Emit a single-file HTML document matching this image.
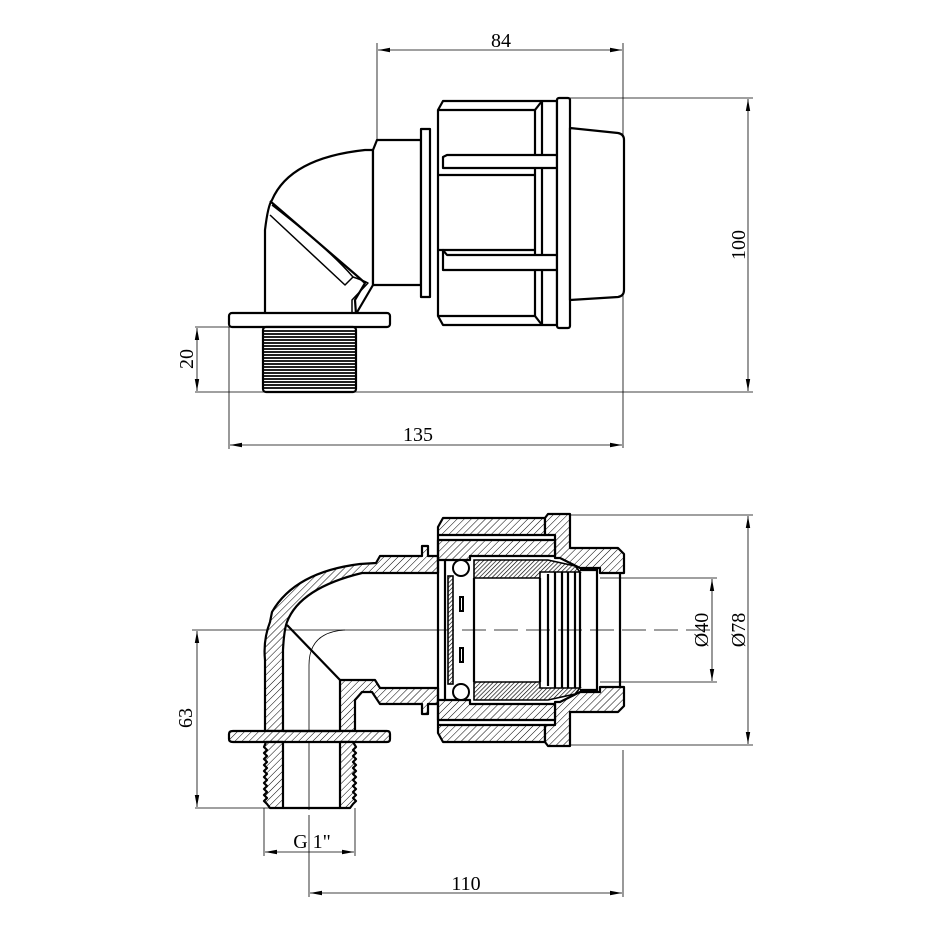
<!DOCTYPE html>
<html><head><meta charset="utf-8"><style>
html,body{margin:0;padding:0;background:#fff}
svg{display:block}
text{font-family:"Liberation Serif",serif;font-size:20px;fill:#000}
</style></head><body>
<svg width="930" height="930" viewBox="0 0 930 930" xmlns="http://www.w3.org/2000/svg">
<defs>
<pattern id="h" width="5" height="5" patternUnits="userSpaceOnUse" patternTransform="rotate(45)">
<rect width="5" height="5" fill="#fff"/><line x1="0" y1="0" x2="0" y2="5" stroke="#000" stroke-width="1"/></pattern>
<pattern id="hd" width="3" height="3" patternUnits="userSpaceOnUse" patternTransform="rotate(45)">
<rect width="3" height="3" fill="#fff"/><line x1="0" y1="0" x2="0" y2="3" stroke="#000" stroke-width="1.3"/></pattern>
<marker id="a" markerWidth="12" markerHeight="6" refX="12" refY="3" orient="auto-start-reverse" markerUnits="userSpaceOnUse"><path d="M0,0.8 L12,3 L0,5.2Z" fill="#000"/></marker>
</defs>

<!-- ============ TOP VIEW ============ -->
<g stroke="#000" stroke-width="0.8" fill="none">
<line x1="377" y1="43" x2="377" y2="140"/>
<line x1="623" y1="43" x2="623" y2="448"/>
<line x1="378" y1="50" x2="622" y2="50" marker-start="url(#a)" marker-end="url(#a)"/>
<line x1="570" y1="98" x2="753" y2="98"/>
<line x1="195" y1="392" x2="753" y2="392"/>
<line x1="748" y1="99" x2="748" y2="391" marker-start="url(#a)" marker-end="url(#a)"/>
<line x1="195" y1="327" x2="265" y2="327"/>
<line x1="197" y1="328" x2="197" y2="391" marker-start="url(#a)" marker-end="url(#a)"/>
<line x1="229" y1="327" x2="229" y2="449"/>
<line x1="230" y1="445" x2="622" y2="445" marker-start="url(#a)" marker-end="url(#a)"/>
</g>
<text x="501" y="47" text-anchor="middle">84</text>
<text x="418" y="441" text-anchor="middle">135</text>
<text transform="translate(745,245) rotate(-90)" text-anchor="middle">100</text>
<text transform="translate(193,359) rotate(-90)" text-anchor="middle">20</text>

<g stroke="#000" stroke-width="2.2" fill="#fff" stroke-linejoin="round">
<path d="M265,314 L265,230 Q268,205 272,200 Q290,158 365,150 L373,150 L373,285 L356,314 Z"/>
<path d="M270,201 L356,275 L365,283 L355,300 L356,314" fill="none"/>
<path d="M272,205 Q330,250 353,277 L345,285 L270,215" fill="none" stroke-width="1.5"/>
<path d="M353,277 Q362,280 368,283 L352,300 L352,313" fill="none" stroke-width="1.5"/>
<path d="M373,150 L377,140 L421,140 L421,285 L373,285 Z"/>
<rect x="421" y="129" width="9" height="168"/>
<path d="M438,110 L443,101 L557,101 L557,325 L443,325 L438,316 Z"/>
<line x1="438" y1="110" x2="535" y2="110"/>
<line x1="438" y1="316" x2="535" y2="316"/>
<line x1="535" y1="110" x2="535" y2="316"/>
<line x1="535" y1="110" x2="542" y2="101"/>
<line x1="535" y1="316" x2="542" y2="325"/>
<line x1="542" y1="101" x2="542" y2="325"/>
<path d="M443,157 L447,155 L557,155 L557,168 L443,168 Z"/>
<path d="M443,250 L447,255 L557,255 L557,270 L443,270 Z"/>
<line x1="438" y1="175" x2="535" y2="175"/>
<line x1="438" y1="250" x2="535" y2="250"/>
<rect x="557" y="98" width="13" height="230" rx="2"/>
<path d="M570,128 L618,133 Q624,134 624,140 L624,290 Q624,296 618,297 L570,300 Z"/>
<rect x="229" y="313" width="161" height="14" rx="3"/>
<rect x="263" y="327" width="93" height="65" rx="3"/>
</g>
<g stroke="#000" stroke-width="1.8">
<line x1="264" y1="331" x2="355" y2="331"/><line x1="264" y1="334" x2="355" y2="334"/>
<line x1="264" y1="337" x2="355" y2="337"/><line x1="264" y1="340" x2="355" y2="340"/>
<line x1="264" y1="343" x2="355" y2="343"/><line x1="264" y1="346" x2="355" y2="346"/>
<line x1="264" y1="349" x2="355" y2="349"/><line x1="264" y1="352" x2="355" y2="352"/>
<line x1="264" y1="355" x2="355" y2="355"/><line x1="264" y1="358" x2="355" y2="358"/>
<line x1="264" y1="361" x2="355" y2="361"/><line x1="264" y1="364" x2="355" y2="364"/>
<line x1="264" y1="367" x2="355" y2="367"/><line x1="264" y1="370" x2="355" y2="370"/>
<line x1="264" y1="373" x2="355" y2="373"/><line x1="264" y1="376" x2="355" y2="376"/>
<line x1="264" y1="379" x2="355" y2="379"/><line x1="264" y1="382" x2="355" y2="382"/>
<line x1="264" y1="385" x2="355" y2="385"/><line x1="264" y1="388" x2="355" y2="388"/>
</g>

<!-- ============ BOTTOM VIEW ============ -->
<g stroke="#000" stroke-width="0.8" fill="none">
<line x1="570" y1="515" x2="753" y2="515"/>
<line x1="570" y1="745" x2="753" y2="745"/>
<line x1="748" y1="516" x2="748" y2="744" marker-start="url(#a)" marker-end="url(#a)"/>
<line x1="600" y1="578" x2="717" y2="578"/>
<line x1="600" y1="682" x2="717" y2="682"/>
<line x1="712" y1="579" x2="712" y2="681" marker-start="url(#a)" marker-end="url(#a)"/>
<line x1="192" y1="630" x2="430" y2="630"/>
<line x1="430" y1="630" x2="712" y2="630" stroke-dasharray="24,8"/>
<line x1="195" y1="808" x2="290" y2="808"/>
<line x1="197" y1="631" x2="197" y2="807" marker-start="url(#a)" marker-end="url(#a)"/>
<line x1="264" y1="808" x2="264" y2="856"/>
<line x1="355" y1="808" x2="355" y2="856"/>
<line x1="265" y1="852" x2="354" y2="852" marker-start="url(#a)" marker-end="url(#a)"/>
<line x1="309" y1="815" x2="309" y2="897"/>
<line x1="623" y1="750" x2="623" y2="897"/>
<line x1="310" y1="893" x2="622" y2="893" marker-start="url(#a)" marker-end="url(#a)"/>
<line x1="309" y1="665" x2="309" y2="810"/>
<path d="M345,630 Q309,632 309,665"/>
</g>
<text x="312" y="848" text-anchor="middle">G 1"</text>
<text x="466" y="890" text-anchor="middle">110</text>
<text transform="translate(192,718) rotate(-90)" text-anchor="middle">63</text>
<text transform="translate(708,630) rotate(-90)" text-anchor="middle">Ø40</text>
<text transform="translate(745,630) rotate(-90)" text-anchor="middle">Ø78</text>

<g stroke="#000" stroke-width="2.2" stroke-linejoin="round" fill="url(#h)">
<path d="M438,556 L428,556 L428,546 L422,546 L422,556 L380,556 L376,563 L360,564 Q295,572 272,612 L270,622 Q263,640 265,660 L265,731 L283,731 L283,650 Q284,630 287,622 Q300,588 362,573 L438,573 Z"/>
<path d="M340,680 L375,680 L380,688 L438,688 L438,704 L428,704 L428,714 L422,714 L422,704 L380,704 L372,692 L362,692 L355,700 L355,731 L340,731 Z"/>
<path d="M233,731 L387,731 Q390,731 390,734 L390,739 Q390,742 387,742 L233,742 Q229,742 229,739 L229,734 Q229,731 233,731 Z"/>
<path d="M266,742 L283,742 L283,808 L270,808 L267,804 L264,801 L267,798 L264,795 L267,792 L264,789 L267,786 L264,783 L267,780 L264,777 L267,774 L264,771 L267,768 L264,765 L267,762 L264,759 L267,756 L264,753 L267,750 L264,747 Z"/>
<path d="M340,742 L353,742 L356,747 L353,750 L356,753 L353,756 L356,759 L353,762 L356,765 L353,768 L356,771 L353,774 L356,777 L353,780 L356,783 L353,786 L356,789 L353,792 L356,795 L353,798 L356,801 L353,804 L350,808 L340,808 Z"/>
<path d="M438,527 L443,518 L545,518 L545,535 L438,535 Z"/>
<path d="M438,733 L443,742 L545,742 L545,725 L438,725 Z"/>
<path d="M545,518 L548,514 L570,514 L570,548 L618,548 L624,554 L624,573 L600,573 L600,568 L580,568 L560,558 L555,558 L555,535 L545,535 Z"/>
<path d="M545,742 L548,746 L570,746 L570,712 L618,712 L624,706 L624,687 L600,687 L600,692 L580,692 L560,702 L555,702 L555,725 L545,725 Z"/>
<path d="M438,540 L555,540 L555,556 L470,556 L470,560 L438,560 Z"/>
<path d="M438,720 L555,720 L555,704 L470,704 L470,700 L438,700 Z"/>
</g>
<g stroke="#000" stroke-width="1.6" fill="url(#hd)">
<path d="M474,560 L548,560 L575,566 L580,572 L540,572 L540,578 L474,578 Z"/>
<path d="M474,700 L548,700 L575,694 L580,688 L540,688 L540,682 L474,682 Z"/>
<rect x="448" y="576" width="5" height="108"/>
</g>
<g stroke="#000" stroke-width="2.2" fill="none">
<line x1="438" y1="535" x2="438" y2="725"/>
<line x1="445" y1="560" x2="445" y2="700"/>
<line x1="474" y1="578" x2="474" y2="682"/>
<line x1="283" y1="731" x2="340" y2="731"/>
<line x1="283" y1="808" x2="340" y2="808"/>
<line x1="287" y1="625" x2="340" y2="680"/>
<line x1="540" y1="578" x2="540" y2="682"/>
<line x1="548" y1="574" x2="548" y2="686"/>
<line x1="555" y1="572" x2="555" y2="688"/>
<line x1="562" y1="572" x2="562" y2="688"/>
<line x1="568" y1="572" x2="568" y2="688"/>
<line x1="575" y1="572" x2="575" y2="688"/>
<line x1="580" y1="572" x2="580" y2="688"/>
<line x1="597" y1="568" x2="597" y2="692"/>
<line x1="580" y1="570" x2="597" y2="570"/>
<line x1="580" y1="690" x2="597" y2="690"/>
<line x1="620" y1="573" x2="620" y2="687"/>
</g>
<g stroke="#000" stroke-width="2" fill="#fff">
<circle cx="461" cy="568" r="8"/>
<circle cx="461" cy="692" r="8"/>
<rect x="460" y="597" width="3" height="14"/>
<rect x="460" y="648" width="3" height="14"/>
</g>
</svg>
</body></html>
